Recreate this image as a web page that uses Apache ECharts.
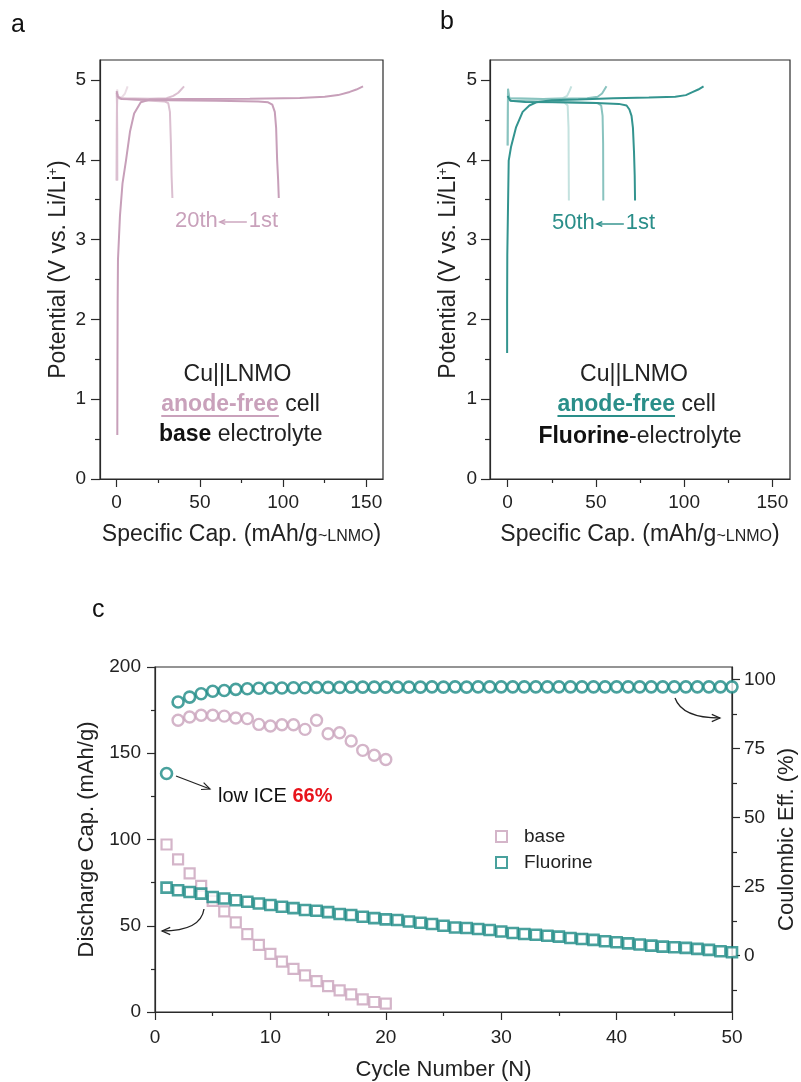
<!DOCTYPE html>
<html>
<head>
<meta charset="utf-8">
<script src="https://cdn.jsdelivr.net/npm/echarts@6/dist/echarts.min.js"></script>
<style>
  html, body { margin: 0; padding: 0; background: #fff; }
  #chart { width: 801px; height: 1082px; }
</style>
</head>
<body>
<div id="chart"></div>
<script>
// ---------- Panel a: Cu||LNMO, base electrolyte  [capacity mAh/g, potential V] ----------
const aCharge1st = [[0.4,0.55],[0.5,1.5],[0.6,2.2],[0.8,2.75],[2,3.3],[3.5,3.7],[5.6,3.99],[8,4.35],[10.5,4.58],[14.5,4.72],[20,4.755],[40,4.76],[80,4.765],[110,4.775],[125,4.79],[133,4.81],[140,4.85],[144,4.88],[148,4.92]];
const aDischarge1st = [[0,4.86],[0.6,4.79],[3,4.76],[30,4.745],[60,4.74],[85,4.73],[91,4.72],[93.5,4.69],[95,4.6],[95.8,4.4],[96.4,4.0],[97,3.75],[97.4,3.52]];
const aChargeMid = [[0,3.74],[0.2,4.6],[0.4,4.82],[1.5,4.77],[20,4.765],[30,4.77],[34,4.8],[37,4.84],[40.5,4.92]];
const aDischargeMid = [[0,4.84],[1,4.77],[15,4.745],[29,4.73],[31,4.71],[32,4.6],[32.6,4.2],[33,3.8],[33.5,3.52]];
const aCharge20th = [[0,3.74],[0.1,4.6],[0.3,4.88],[1,4.79],[3,4.78],[5,4.83],[6.6,4.92]];
const aDischarge20th = [[0,4.84],[0.2,4.7],[0.35,4.3],[0.4,3.74]];

// ---------- Panel b: Cu||LNMO, fluorine electrolyte ----------
const bCharge1st = [[-0.3,1.58],[-0.3,2.2],[-0.2,2.8],[0.6,3.99],[1.9,4.16],[4.8,4.41],[8.5,4.6],[12.3,4.68],[16.2,4.72],[25,4.745],[40,4.755],[60,4.77],[80,4.78],[95,4.79],[101,4.81],[105,4.85],[108,4.88],[111,4.92]];
const bDischarge1st = [[0,4.8],[1.5,4.74],[10,4.725],[30,4.72],[50,4.71],[63,4.7],[67.4,4.68],[69,4.63],[70.2,4.55],[71,4.4],[71.6,4.1],[72,3.8],[72.2,3.49]];
const bChargeMid = [[0,4.18],[0.1,4.6],[0.2,4.89],[1,4.77],[20,4.76],[45,4.77],[51,4.79],[53.5,4.83],[56,4.92]];
const bDischargeMid = [[0,4.79],[2,4.74],[30,4.72],[51,4.71],[53,4.68],[53.8,4.55],[54.1,4.2],[54.2,3.49]];
const bCharge50th = [[0,4.18],[0.2,4.85],[1,4.77],[20,4.76],[31,4.77],[33.7,4.8],[35,4.86],[36.1,4.92]];
const bDischarge50th = [[0,4.79],[2,4.74],[32,4.72],[34,4.68],[34.5,4.4],[34.7,3.49]];

// ---------- Panel c: cycling ----------
const baseCycles = [1,2,3,4,5,6,7,8,9,10,11,12,13,14,15,16,17,18,19,20];
const baseCap = [97.1,88.5,80.4,73.1,64.4,58.3,51.9,45.2,38.9,33.7,29.2,25.0,21.2,17.9,15.0,12.5,10.2,7.3,5.8,4.8];
const baseCECycles = [2,3,4,5,6,7,8,9,10,11,12,13,14,15,16,17,18,19,20];
const baseCE = [85.3,86.5,87.1,87.1,86.8,86.1,85.9,83.8,83.2,83.7,83.7,82.0,85.3,80.4,80.8,77.8,74.4,72.6,71.1];
const fluoCycles = [1,2,3,4,5,6,7,8,9,10,11,12,13,14,15,16,17,18,19,20,21,22,23,24,25,26,27,28,29,30,31,32,33,34,35,36,37,38,39,40,41,42,43,44,45,46,47,48,49,50];
const fluoCap = [72.1,70.6,69.6,68.6,66.7,65.8,64.8,63.9,62.9,62.0,61.0,60.2,59.1,58.7,57.9,56.8,56.2,55.2,54.4,53.7,53.3,52.5,51.7,51.0,50.0,49.0,48.7,48.1,47.5,46.7,45.8,45.2,44.8,44.2,43.7,42.9,42.3,41.8,41.0,40.4,39.8,39.1,38.5,37.9,37.5,37.2,36.6,36.0,35.2,34.6];
const fluoCE = [66,91.9,93.7,94.9,95.8,96.1,96.5,96.7,96.9,97.0,97.0,97.1,97.1,97.2,97.2,97.2,97.3,97.3,97.3,97.3,97.3,97.3,97.3,97.4,97.3,97.4,97.3,97.4,97.4,97.4,97.4,97.4,97.4,97.4,97.4,97.4,97.4,97.4,97.4,97.4,97.4,97.4,97.4,97.4,97.4,97.4,97.4,97.4,97.4,97.4];

// tick label sets
const capTicks = [0,50,100,150], capMinor = [25,75,125];
const vTicks = [0,1,2,3,4,5], vMinor = [0.5,1.5,2.5,3.5,4.5];
const ceTicks = [0,25,50,75,100], ceMinor = [-12.5,12.5,37.5,62.5,87.5];

const FONT = "'Liberation Sans', Arimo, Arial, sans-serif";
const AX = '#2a2a2a';
const PINK = '#c79fb9', PINK_MID = '#dbbfd0', PINK_LIGHT = '#ebdde5';
const TEAL = '#1b8984', TEAL1 = '#33948f', TEAL_MID = '#89c3bf', TEAL_LIGHT = '#c4e2df';
const MARK_PINK = '#c9a2bb';
const LABEL_PINK = '#c9a1bb', LABEL_TEAL = '#2a8e89';

function pair(xs, ys) { return xs.map((x, i) => [x, ys[i]]); }

function tickStyle(len, values) {
  const t = { show: true, inside: false, length: len, lineStyle: { color: AX, width: 1.2 } };
  if (values) t.customValues = values;
  return t;
}
function labelStyle(margin, values) {
  const l = { color: '#222', fontFamily: FONT, fontSize: 19, margin };
  if (values) l.customValues = values;
  return l;
}
function mainAxis(o) {
  return Object.assign({
    type: 'value', splitLine: { show: false },
    axisLine: { show: true, onZero: false, lineStyle: { color: AX, width: 1.2 } }
  }, o);
}
function minorAxis(o, len, values) {
  return Object.assign({
    type: 'value', splitLine: { show: false },
    axisLine: { show: false, onZero: false },
    axisTick: tickStyle(len, values),
    axisLabel: { show: false }
  }, o);
}

const capName = 'Specific Cap. (mAh/g{s|~LNMO})';
const capNameStyle = { color: '#222', fontFamily: FONT, fontSize: 23,
  rich: { s: { fontFamily: FONT, fontSize: 16, color: '#222', verticalAlign: 'bottom', padding: [0,0,1,0] } } };
const potName = 'Potential (V vs. Li/Li{sup|+})';
const potNameStyle = { color: '#222', fontFamily: FONT, fontSize: 23,
  rich: { sup: { fontFamily: FONT, fontSize: 13, color: '#222', verticalAlign: 'top' } } };

function lineSeries(name, data, color, xi, yi) {
  return { name, type: 'line', data, xAxisIndex: xi, yAxisIndex: yi, showSymbol: false, symbol: 'none',
    lineStyle: { color, width: 2 }, itemStyle: { color }, z: 2, silent: true };
}

const gridBase = { show: true, borderColor: AX, borderWidth: 1.2, outerBoundsMode: 'none', containLabel: false };

const option = {
  animation: false,
  backgroundColor: '#fff',
  grid: [
    Object.assign({ left: 100, top: 60, width: 283, height: 419 }, gridBase),
    Object.assign({ left: 490, top: 60, width: 300, height: 419 }, gridBase),
    Object.assign({ left: 155, top: 667, width: 577, height: 345 }, gridBase)
  ],
  xAxis: [
    mainAxis({ gridIndex: 0, position: 'bottom', min: -10, max: 160,
      axisTick: tickStyle(8, capTicks), axisLabel: labelStyle(14, capTicks),
      name: capName, nameLocation: 'middle', nameGap: 44, nameTextStyle: capNameStyle }),
    minorAxis({ gridIndex: 0, position: 'bottom', min: -10, max: 160 }, 4, capMinor),
    mainAxis({ gridIndex: 1, position: 'bottom', min: -10, max: 160,
      axisTick: tickStyle(8, capTicks), axisLabel: labelStyle(14, capTicks),
      name: capName, nameLocation: 'middle', nameGap: 44, nameTextStyle: capNameStyle }),
    minorAxis({ gridIndex: 1, position: 'bottom', min: -10, max: 160 }, 4, capMinor),
    mainAxis({ gridIndex: 2, position: 'bottom', min: 0, max: 50, interval: 10,
      axisTick: tickStyle(8),
      minorTick: { show: true, splitNumber: 2, length: 4, lineStyle: { color: AX, width: 1.2 } },
      axisLabel: labelStyle(16),
      name: 'Cycle Number (N)', nameLocation: 'middle', nameGap: 47,
      nameTextStyle: { color: '#222', fontFamily: FONT, fontSize: 22 } })
  ],
  yAxis: [
    mainAxis({ gridIndex: 0, position: 'left', min: 0, max: 5.25,
      axisTick: tickStyle(9, vTicks), axisLabel: labelStyle(14, vTicks),
      name: potName, nameLocation: 'middle', nameGap: 30, nameTextStyle: potNameStyle }),
    minorAxis({ gridIndex: 0, position: 'left', min: 0, max: 5.25 }, 5, vMinor),
    mainAxis({ gridIndex: 1, position: 'left', min: 0, max: 5.25,
      axisTick: tickStyle(9, vTicks), axisLabel: labelStyle(13, vTicks),
      name: potName, nameLocation: 'middle', nameGap: 30, nameTextStyle: potNameStyle }),
    minorAxis({ gridIndex: 1, position: 'left', min: 0, max: 5.25 }, 5, vMinor),
    mainAxis({ gridIndex: 2, position: 'left', min: 0, max: 200, interval: 50,
      axisTick: tickStyle(8),
      minorTick: { show: true, splitNumber: 2, length: 4, lineStyle: { color: AX, width: 1.2 } },
      axisLabel: labelStyle(14),
      name: 'Discharge Cap. (mAh/g)', nameLocation: 'middle', nameGap: 57,
      nameTextStyle: { color: '#222', fontFamily: FONT, fontSize: 22 } }),
    mainAxis({ gridIndex: 2, position: 'right', min: -20.4, max: 104.6,
      axisTick: tickStyle(8, ceTicks), axisLabel: labelStyle(12, ceTicks),
      name: 'Coulombic Eff. (%)', nameLocation: 'middle', nameGap: 44, nameRotate: 90, nameMoveOverlap: false,
      nameTextStyle: { color: '#222', fontFamily: FONT, fontSize: 22 } }),
    minorAxis({ gridIndex: 2, position: 'right', min: -20.4, max: 104.6 }, 5, ceMinor)
  ],
  legend: {
    data: ['base', 'Fluorine'], orient: 'vertical', left: 495, top: 827, padding: 0,
    itemWidth: 11, itemHeight: 11, itemGap: 7, selectedMode: false,
    textStyle: { fontFamily: FONT, fontSize: 19, color: '#222', padding: [0, 0, 0, 12], lineHeight: 19 }
  },
  series: [
    // panel a
    lineSeries('a 20th charge', aCharge20th, PINK_LIGHT, 0, 0),
    lineSeries('a 20th discharge', aDischarge20th, PINK_MID, 0, 0),
    lineSeries('a mid charge', aChargeMid, PINK_MID, 0, 0),
    lineSeries('a mid discharge', aDischargeMid, PINK_MID, 0, 0),
    lineSeries('a 1st charge', aCharge1st, PINK, 0, 0),
    lineSeries('a 1st discharge', aDischarge1st, PINK, 0, 0),
    // panel b
    lineSeries('b 50th charge', bCharge50th, TEAL_LIGHT, 2, 2),
    lineSeries('b 50th discharge', bDischarge50th, TEAL_LIGHT, 2, 2),
    lineSeries('b mid charge', bChargeMid, TEAL_MID, 2, 2),
    lineSeries('b mid discharge', bDischargeMid, TEAL_MID, 2, 2),
    lineSeries('b 1st charge', bCharge1st, TEAL1, 2, 2),
    lineSeries('b 1st discharge', bDischarge1st, TEAL1, 2, 2),
    // panel c
    { name: 'base', type: 'scatter', xAxisIndex: 4, yAxisIndex: 4, data: pair(baseCycles, baseCap),
      symbol: 'rect', symbolSize: 10, itemStyle: { color: '#fff', borderColor: MARK_PINK, borderWidth: 2.2 } },
    { name: 'Fluorine', type: 'scatter', xAxisIndex: 4, yAxisIndex: 4, data: pair(fluoCycles, fluoCap),
      symbol: 'rect', symbolSize: 10, itemStyle: { color: '#fff', borderColor: TEAL, borderWidth: 2.6 } },
    { name: 'base CE', type: 'scatter', xAxisIndex: 4, yAxisIndex: 5, data: pair(baseCECycles, baseCE),
      symbol: 'circle', symbolSize: 11, itemStyle: { color: '#fff', borderColor: MARK_PINK, borderWidth: 2.4 } },
    { name: 'Fluorine CE', type: 'scatter', xAxisIndex: 4, yAxisIndex: 5, data: pair(fluoCycles, fluoCE),
      symbol: 'circle', symbolSize: 11, itemStyle: { color: '#fff', borderColor: TEAL, borderWidth: 2.6 } }
  ]
};

// ---------- annotation helpers ----------
const measureCtx = document.createElement('canvas').getContext('2d');
function textWidth(str, size, bold) {
  measureCtx.font = (bold ? 'bold ' : '') + size + 'px ' + FONT;
  return measureCtx.measureText(str).width;
}
// lay out a line of mixed-style text pieces centred on cx
function textLine(parts, cx, cy, size) {
  const widths = parts.map(p => textWidth(p.t, size, p.bold));
  const total = widths.reduce((a, b) => a + b, 0);
  let x = cx - total / 2;
  const els = [];
  parts.forEach((p, i) => {
    els.push({ type: 'text', x, y: cy, silent: true,
      style: { text: p.t, fill: p.color || '#222', fontFamily: FONT, fontSize: size,
               fontWeight: p.bold ? 'bold' : 'normal', textAlign: 'left', textVerticalAlign: 'middle' } });
    if (p.underline) {
      els.push({ type: 'line', silent: true, shape: { x1: x, y1: cy + 11, x2: x + widths[i], y2: cy + 11 },
                 style: { stroke: p.color, lineWidth: 2 } });
    }
    x += widths[i];
  });
  return els;
}
function arrowHead(x, y, dx, dy, len, color, width) {
  const a = Math.atan2(dy, dx), s = 0.42;
  return { type: 'polyline', silent: true,
    shape: { points: [[x - len * Math.cos(a - s), y - len * Math.sin(a - s)], [x, y], [x - len * Math.cos(a + s), y - len * Math.sin(a + s)]] },
    style: { stroke: color, lineWidth: width || 1.2, fill: null } };
}
// "Nth <- 1st" cycle-order label with a drawn long arrow
function cycleLabel(first, last, x0, cy, color) {
  const size = 22;
  const w1 = textWidth(first, size, false);
  const ax1 = x0 + w1 + 2, ax2 = ax1 + 27;
  const style = { fill: color, fontFamily: FONT, fontSize: size, textVerticalAlign: 'middle' };
  return [
    { type: 'text', x: x0, y: cy, silent: true, style: Object.assign({ text: first }, style) },
    { type: 'line', silent: true, shape: { x1: ax1, y1: cy + 1, x2: ax2, y2: cy + 1 }, style: { stroke: color, lineWidth: 1.4 } },
    arrowHead(ax1, cy + 1, -1, 0, 6, color, 1.4),
    { type: 'text', x: ax2 + 2, y: cy, silent: true, style: Object.assign({ text: last }, style) }
  ];
}

const graphics = [
  { type: 'text', x: 11, y: 13, style: { text: 'a', fontFamily: FONT, fontSize: 25, fill: '#111' } },
  { type: 'text', x: 440, y: 10, style: { text: 'b', fontFamily: FONT, fontSize: 25, fill: '#111' } },
  { type: 'text', x: 92, y: 598, style: { text: 'c', fontFamily: FONT, fontSize: 25, fill: '#111' } },
  ...cycleLabel('20th', '1st', 175, 221, LABEL_PINK),
  ...cycleLabel('50th', '1st', 552, 223, LABEL_TEAL),
  ...textLine([{ t: 'Cu||LNMO' }], 237.5, 375, 23),
  ...textLine([{ t: 'anode-free', bold: true, color: LABEL_PINK, underline: true }, { t: ' cell' }], 240.5, 405, 23),
  ...textLine([{ t: 'base', bold: true, color: '#111' }, { t: ' electrolyte' }], 240.8, 435, 23),
  ...textLine([{ t: 'Cu||LNMO' }], 634, 375, 23),
  ...textLine([{ t: 'anode-free', bold: true, color: LABEL_TEAL, underline: true }, { t: ' cell' }], 636.7, 405, 23),
  ...textLine([{ t: 'Fluorine', bold: true, color: '#111' }, { t: '-electrolyte' }], 640, 437, 23),
  // panel c notes
  { type: 'line', silent: true, shape: { x1: 176, y1: 776, x2: 210, y2: 789 }, style: { stroke: '#222', lineWidth: 1.2 } },
  arrowHead(210, 789, 34, 13, 9, '#222'),
  ...(() => {
    const w = textWidth('low ICE ', 20, false);
    return [
      { type: 'text', x: 218, y: 796, style: { text: 'low ICE ', fill: '#111', fontFamily: FONT, fontSize: 20, textVerticalAlign: 'middle' } },
      { type: 'text', x: 218 + w, y: 796, style: { text: '66%', fill: '#e8141c', fontWeight: 'bold', fontFamily: FONT, fontSize: 20, textVerticalAlign: 'middle' } }
    ];
  })(),
  { type: 'bezierCurve', silent: true, shape: { x1: 204, y1: 909, cpx1: 202, cpy1: 923, cpx2: 188, cpy2: 931, x2: 162, y2: 931 },
    style: { stroke: '#222', lineWidth: 1.3, fill: null } },
  arrowHead(162, 931, -26, 0, 9, '#222'),
  { type: 'bezierCurve', silent: true, shape: { x1: 675, y1: 698, cpx1: 680, cpy1: 712, cpx2: 697, cpy2: 718, x2: 720, y2: 718 },
    style: { stroke: '#222', lineWidth: 1.3, fill: null } },
  arrowHead(720, 718, 23, 0, 9, '#222')
];
option.graphic = { elements: graphics };

const chart = echarts.init(document.getElementById('chart'), null, { renderer: 'canvas' });
chart.setOption(option);
</script>
</body>
</html>
